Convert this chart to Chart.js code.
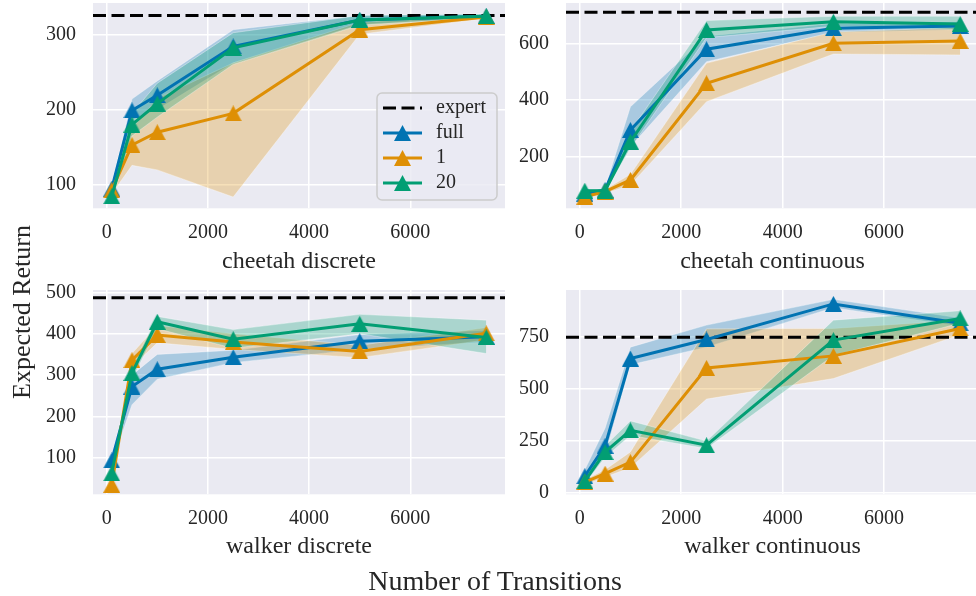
<!DOCTYPE html>
<html>
<head>
<meta charset="utf-8">
<script src="https://cdn.jsdelivr.net/npm/chart.js@4.4.1/dist/chart.umd.min.js"></script>
<style>
  body { margin: 0; width: 976px; height: 596px; overflow: hidden; background: #fff; position: relative; font-family: "Liberation Serif", serif; color: #262626; }
  canvas { position: absolute; }
  .label { position: absolute; white-space: nowrap; transform: translate(-50%, -50%); }
  #ylab { left: 22px; top: 312px; font-size: 26px; transform: translate(-50%, -50%) rotate(-90deg); }
  #xlab { left: 495px; top: 581px; font-size: 28px; }
</style>
</head>
<body>
<canvas id="c1" width="510" height="290"></canvas>
<canvas id="c2" width="500" height="290"></canvas>
<canvas id="c3" width="510" height="290"></canvas>
<canvas id="c4" width="500" height="290"></canvas>
<div class="label" id="ylab">Expected Return</div>
<div class="label" id="xlab">Number of Transitions</div>
<script>
// data
const steps = [100, 500, 1000, 2500, 5000, 7500];
const xTicks = [0, 2000, 4000, 6000];
const seriesNames = ['full', '1', '20'];
const panelTitles = ['cheetah discrete', 'cheetah continuous', 'walker discrete', 'walker continuous'];
const expertReturn = [325, 709, 487, 748];

// cheetah discrete
const cdTicks = [100, 200, 300];
const cdFull = [95, 199, 219, 284, 319, 324];
const cdFullLo = [89, 186, 200, 262, 313, 322];
const cdFullHi = [100, 214, 238, 306, 325, 327];
const cdOne = [93, 153, 170, 195, 306, 323];
const cdOneLo = [88, 126, 120, 84, 300, 321];
const cdOneHi = [98, 175, 215, 262, 316, 325];
const cdTwenty = [85, 180, 208, 282, 319, 324];
const cdTwentyLo = [80, 165, 190, 260, 312, 322];
const cdTwentyHi = [90, 195, 235, 302, 325, 327];

// cheetah continuous
const ccTicks = [200, 400, 600];
const ccFull = [70, 82, 294, 579, 653, 661];
const ccFullLo = [62, 75, 235, 535, 638, 648];
const ccFullHi = [78, 90, 376, 625, 670, 676];
const ccOne = [59, 77, 118, 459, 600, 608];
const ccOneLo = [52, 70, 100, 394, 562, 559];
const ccOneHi = [66, 84, 138, 530, 640, 655];
const ccTwenty = [80, 80, 253, 647, 676, 668];
const ccTwentyLo = [74, 74, 230, 620, 660, 648];
const ccTwentyHi = [86, 86, 290, 680, 695, 695];

// walker discrete
const wdTicks = [100, 200, 300, 400, 500];
const wdFull = [93, 272, 314, 343, 382, 393];
const wdFullLo = [85, 228, 290, 330, 362, 380];
const wdFullHi = [101, 300, 350, 360, 398, 408];
const wdOne = [34, 336, 397, 380, 357, 401];
const wdOneLo = [28, 320, 378, 362, 342, 385];
const wdOneHi = [40, 352, 420, 400, 372, 415];
const wdTwenty = [62, 305, 429, 387, 424, 391];
const wdTwentyLo = [55, 290, 412, 365, 400, 352];
const wdTwentyHi = [70, 320, 442, 410, 447, 433];

// walker continuous
const wcTicks = [0, 250, 500, 750];
const wcFull = [79, 225, 645, 737, 908, 815];
const wcFullLo = [60, 180, 615, 700, 890, 800];
const wcFullHi = [110, 310, 700, 806, 930, 840];
const wcOne = [51, 91, 147, 600, 658, 790];
const wcOneLo = [38, 75, 120, 450, 549, 760];
const wcOneHi = [62, 110, 196, 788, 790, 830];
const wcTwenty = [55, 195, 300, 228, 734, 838];
const wcTwentyLo = [40, 170, 275, 212, 660, 815];
const wcTwentyHi = [70, 225, 345, 248, 830, 875];

const colors = ['#0173B2', '#DE8F05', '#029E73'];
const bandColors = ['rgba(1,115,178,0.28)', 'rgba(222,143,5,0.28)', 'rgba(2,158,115,0.28)'];
const textColor = '#262626';
const fontFamily = '"Liberation Serif", serif';
const xMin = -270, xMax = 7870;

function triangleMarker(color) {
  let c = document.createElement('canvas');
  c.width = 17; c.height = 16;
  let g = c.getContext('2d');
  g.fillStyle = color;
  g.beginPath();
  g.moveTo(8.5, 0);
  g.lineTo(17, 16);
  g.lineTo(0, 16);
  g.closePath();
  g.fill();
  return c;
}
const markers = colors.map(triangleMarker);

function toPoints(values) {
  return values.map((v, i) => ({ x: steps[i], y: v }));
}

// plot face colour
const plotFace = {
  id: 'plotFace',
  beforeDraw(chart) {
    const a = chart.chartArea;
    chart.ctx.save();
    chart.ctx.fillStyle = '#EAEAF2';
    chart.ctx.fillRect(a.left, a.top, a.right - a.left, a.bottom - a.top);
    chart.ctx.restore();
  }
};

// legend inside the first panel
const innerLegend = {
  id: 'innerLegend',
  afterDraw(chart, args, opts) {
    if (!opts.show) return;
    const c = chart.ctx;
    const a = chart.chartArea;
    const w = 120, h = 107;
    const x0 = a.right - w - 8, y0 = a.top + 90;
    c.save();
    c.beginPath();
    c.roundRect(x0, y0, w, h, 5);
    c.fillStyle = 'rgba(234,234,242,0.8)';
    c.fill();
    c.strokeStyle = '#CCCCCC';
    c.lineWidth = 1.5;
    c.stroke();
    const names = ['expert'].concat(seriesNames);
    c.font = '20px ' + fontFamily;
    c.textBaseline = 'middle';
    names.forEach((name, i) => {
      const y = y0 + 15 + i * 25;
      c.beginPath();
      c.moveTo(x0 + 6, y);
      c.lineTo(x0 + 45, y);
      c.lineWidth = 3;
      if (i === 0) {
        c.strokeStyle = '#000';
        c.setLineDash([13, 5.5]);
      } else {
        c.strokeStyle = colors[i - 1];
        c.setLineDash([]);
      }
      c.stroke();
      c.setLineDash([]);
      if (i > 0) {
        const m = markers[i - 1];
        c.drawImage(m, x0 + 25.5 - m.width / 2, y - m.height / 2);
      }
      c.fillStyle = textColor;
      c.fillText(name, x0 + 59, y);
    });
    c.restore();
  }
};

// target plot rectangles on the page
const panels = [
  { id: 'c1', expert: expertReturn[0], yTicks: cdTicks, yMin: 69, yMax: 341.5, legend: true,
    series: [[cdFull, cdFullLo, cdFullHi], [cdOne, cdOneLo, cdOneHi], [cdTwenty, cdTwentyLo, cdTwentyHi]],
    area: { left: 93, top: 3, right: 505, bottom: 208.3 }, titlePad: 3.6 },
  { id: 'c2', expert: expertReturn[1], yTicks: ccTicks, yMin: 18, yMax: 742, legend: false,
    series: [[ccFull, ccFullLo, ccFullHi], [ccOne, ccOneLo, ccOneHi], [ccTwenty, ccTwentyLo, ccTwentyHi]],
    area: { left: 566, top: 3, right: 979, bottom: 208.3 }, titlePad: 3.6 },
  { id: 'c3', expert: expertReturn[2], yTicks: wdTicks, yMin: 11, yMax: 506, legend: false,
    series: [[wdFull, wdFullLo, wdFullHi], [wdOne, wdOneLo, wdOneHi], [wdTwenty, wdTwentyLo, wdTwentyHi]],
    area: { left: 93, top: 290, right: 505, bottom: 494.3 }, titlePad: 4.9 },
  { id: 'c4', expert: expertReturn[3], yTicks: wcTicks, yMin: -8, yMax: 975, legend: false,
    series: [[wcFull, wcFullLo, wcFullHi], [wcOne, wcOneLo, wcOneHi], [wcTwenty, wcTwentyLo, wcTwentyHi]],
    area: { left: 566, top: 290, right: 979, bottom: 494.3 }, titlePad: 4.9 }
];

function makeConfig(p, pi) {
  let datasets = [{
    label: 'expert',
    data: [{ x: xMin, y: p.expert }, { x: xMax, y: p.expert }],
    borderColor: '#000', borderWidth: 3, borderDash: [13, 5.5],
    pointRadius: 0, order: 5
  }];
  p.series.forEach(function (s, si) {
    let loIndex = datasets.length;
    datasets.push({
      label: seriesNames[si] + ' lo', data: toPoints(s[1]),
      borderColor: 'rgba(255,255,255,0.35)', borderWidth: 1, pointRadius: 0, fill: false, order: 12 - si
    });
    datasets.push({
      label: seriesNames[si] + ' hi', data: toPoints(s[2]),
      borderColor: 'rgba(255,255,255,0.35)', borderWidth: 1, pointRadius: 0,
      backgroundColor: bandColors[si], fill: loIndex, order: 12 - si
    });
    datasets.push({
      label: seriesNames[si], data: toPoints(s[0]),
      borderColor: colors[si], borderWidth: 3,
      pointStyle: markers[si], pointRadius: 9, order: 3 - si
    });
  });

  return {
    type: 'line',
    data: { datasets: datasets },
    plugins: [plotFace, innerLegend],
    options: {
      responsive: false,
      animation: false,
      events: [],
      elements: { line: { tension: 0 } },
      plugins: {
        legend: { display: false },
        tooltip: { enabled: false },
        innerLegend: { show: p.legend }
      },
      scales: {
        x: {
          type: 'linear', min: xMin, max: xMax,
          afterBuildTicks: function (scale) { scale.ticks = xTicks.map(v => ({ value: v })); },
          afterFit: function (scale) { scale.height = 71.7; },
          grid: { color: '#FFFFFF', lineWidth: 1.5, drawTicks: false },
          border: { display: false },
          ticks: { color: textColor, font: { family: fontFamily, size: 20 }, padding: 12, maxRotation: 0,
                   callback: v => String(v) },
          title: { display: true, text: panelTitles[pi], color: textColor,
                   font: { family: fontFamily, size: 24 }, padding: { top: 0, bottom: p.titlePad } }
        },
        y: {
          type: 'linear', min: p.yMin, max: p.yMax,
          afterBuildTicks: function (scale) { scale.ticks = p.yTicks.map(v => ({ value: v })); },
          afterFit: function (scale) { scale.width = 80; },
          grid: { color: '#FFFFFF', lineWidth: 1.5, drawTicks: false },
          border: { display: false },
          ticks: { color: textColor, font: { family: fontFamily, size: 20 }, padding: 17,
                   callback: v => String(v) }
        }
      }
    }
  };
}

// draw once, measure the margins round the plot area, then place the canvas so the plot area lands on its target
panels.forEach(function (p, pi) {
  let canvas = document.getElementById(p.id);
  let chart = new Chart(canvas, makeConfig(p, pi));
  let a = chart.chartArea;
  let ml = a.left, mt = a.top, mr = canvas.width - a.right, mb = canvas.height - a.bottom;
  chart.destroy();
  let t = p.area;
  canvas.width = Math.round(t.right - t.left + ml + mr);
  canvas.height = Math.round(t.bottom - t.top + mt + mb);
  canvas.style.left = (t.left - ml) + 'px';
  canvas.style.top = (t.top - mt) + 'px';
  new Chart(canvas, makeConfig(p, pi));
});
</script>
</body>
</html>
